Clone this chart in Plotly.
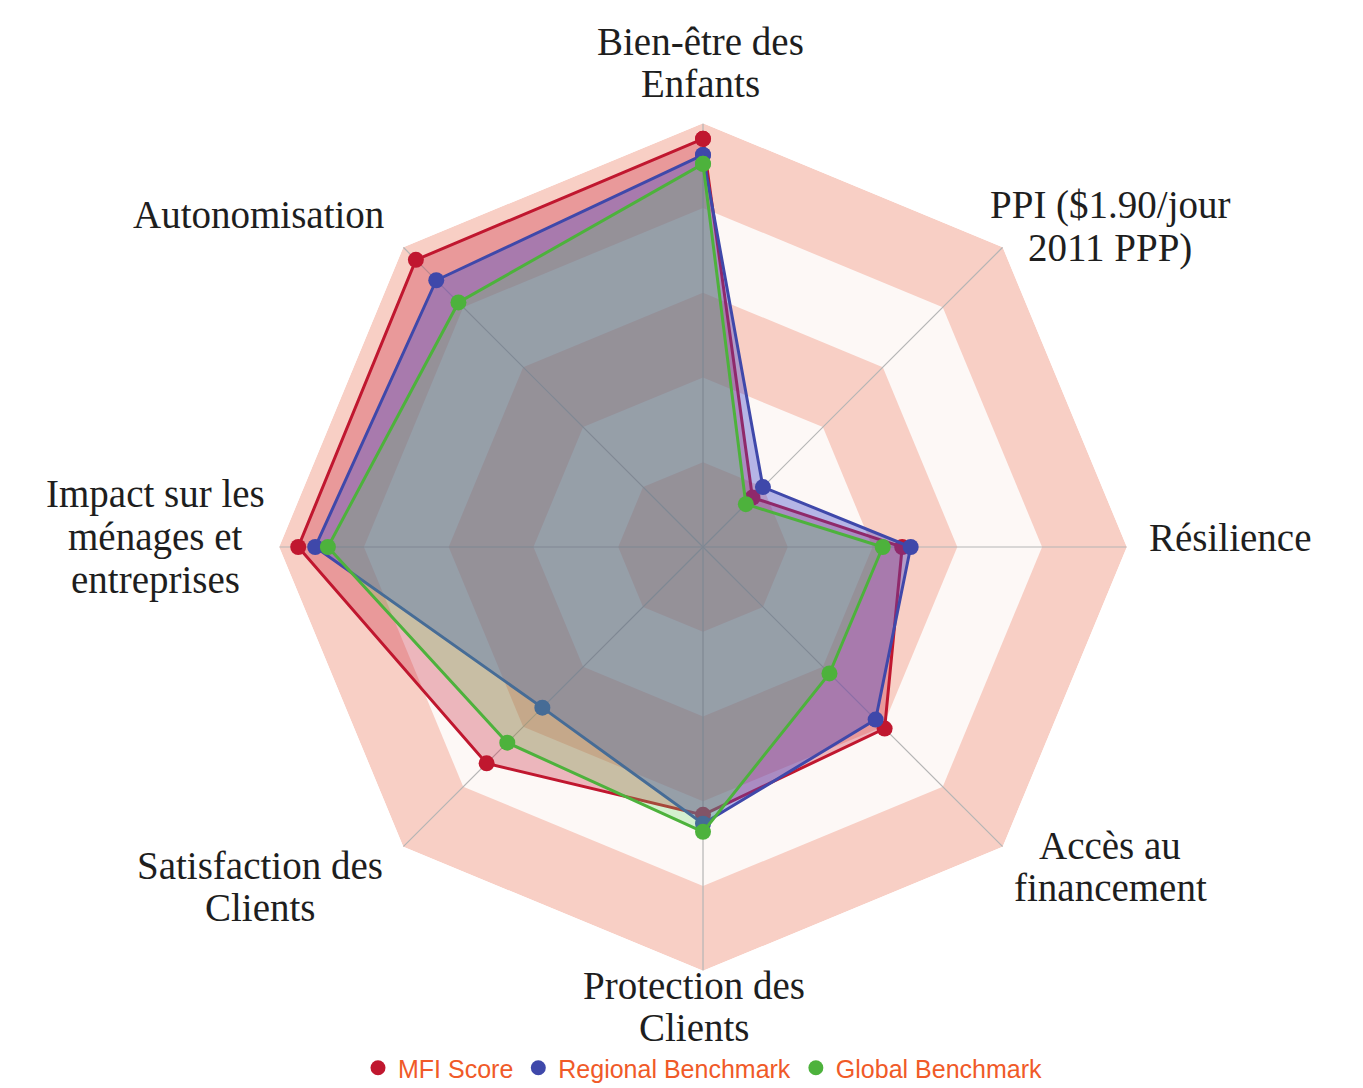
import plotly.graph_objects as go

categories = [
    "Bien-être des Enfants",
    "PPI ($1.90/jour 2011 PPP)",
    "Résilience",
    "Accès au financement",
    "Protection des Clients",
    "Satisfaction des Clients",
    "Impact sur les ménages et entreprises",
    "Autonomisation",
]
# label lines as displayed around the chart
label_lines = [
    ["Bien-être des", "Enfants"],
    ["PPI ($1.90/jour", "2011 PPP)"],
    ["Résilience"],
    ["Accès au", "financement"],
    ["Protection des", "Clients"],
    ["Satisfaction des", "Clients"],
    ["Impact sur les", "ménages et", "entreprises"],
    ["Autonomisation"],
]
mfi_score = [96.3, 16.5, 47.0, 60.6, 63.2, 72.2, 95.5, 95.8]
regional_benchmark = [92.5, 20.0, 49.0, 57.6, 65.3, 53.6, 91.5, 89.0]
global_benchmark = [90.4, 14.3, 42.4, 42.2, 67.2, 65.3, 88.5, 81.6]
series_names = ["MFI Score", "Regional Benchmark", "Global Benchmark"]
band_levels = [100, 80, 60, 40, 20]

line_colors = ["#c0172f", "#3f48aa", "#4db23c"]
fill_colors = ["rgba(195,20,48,0.29)", "rgba(63,72,204,0.38)", "rgba(90,215,90,0.25)"]
band_colors = ["#f8cfc5", "#fdf8f6"]

# the page body offsets the figure slightly inside the window
OFFX, OFFY = 8, 5
W, H = 1363 - OFFX, 1088 - OFFY

fig = go.Figure()

closed_theta = categories + [categories[0]]

# background bands
for i, lvl in enumerate(band_levels):
    fig.add_trace(go.Scatterpolar(
        r=[lvl] * len(closed_theta), theta=closed_theta, mode="lines",
        fill="toself", fillcolor=band_colors[i % 2],
        line=dict(width=0, color=band_colors[i % 2]),
        showlegend=False, hoverinfo="skip"))

# spokes
for c in categories:
    fig.add_trace(go.Scatterpolar(
        r=[0, band_levels[0]], theta=[c, c], mode="lines",
        line=dict(color="#b5b5b5", width=1.2),
        showlegend=False, hoverinfo="skip"))

series = [mfi_score, regional_benchmark, global_benchmark]
for vals, name, lc, fc in zip(series, series_names, line_colors, fill_colors):
    fig.add_trace(go.Scatterpolar(
        r=vals + [vals[0]], theta=closed_theta, mode="lines+markers",
        fill="toself", fillcolor=fc,
        line=dict(color=lc, width=3),
        marker=dict(color=lc, size=16),
        name=name, showlegend=False))

# legend entries (markers only)
for name, lc in zip(series_names, line_colors):
    fig.add_trace(go.Scatterpolar(
        r=[None], theta=[categories[0]], mode="markers",
        marker=dict(color=lc, size=15), name=name, showlegend=True))

# axis labels: centre positions (window px) of each label block
label_centers = [
    (701, 60), (1110, 225), (1230, 538), (1110, 870),
    (694, 1011), (260, 890), (155, 538), (259, 213),
]
line_step = 43
annotations = []
for lines, (cx, cy) in zip(label_lines, label_centers):
    n = len(lines)
    for k, txt in enumerate(lines):
        yy = cy + (k - (n - 1) / 2) * line_step
        annotations.append(dict(
            text=txt, x=(cx - OFFX) / W, y=1 - (yy - OFFY) / H,
            xref="paper", yref="paper", xanchor="center", yanchor="middle",
            showarrow=False,
            font=dict(family="Liberation Serif", size=39, color="#1e1e1e")))

cx0, cy0, R = 703 - OFFX, 548 - OFFY, 427
fig.update_layout(
    width=W, height=H,
    margin=dict(l=0, r=0, t=0, b=0),
    paper_bgcolor="white",
    annotations=annotations,
    polar=dict(
        domain=dict(x=[(cx0 - R) / W, (cx0 + R) / W],
                    y=[1 - (cy0 + R) / H, 1 - (cy0 - R) / H]),
        gridshape="linear",
        bgcolor="rgba(0,0,0,0)",
        radialaxis=dict(range=[0, 100], visible=False),
        angularaxis=dict(
            direction="clockwise", rotation=90,
            showgrid=False, showline=False, ticks="", showticklabels=False,
        ),
    ),
    showlegend=True,
    legend=dict(
        orientation="h", x=(703 - OFFX) / W, xanchor="center",
        y=1 - (1073 - OFFY) / H, yanchor="middle",
        font=dict(family="Liberation Sans", size=25, color="#f05a28"),
        itemsizing="trace", bgcolor="rgba(0,0,0,0)",
    ),
)

fig.write_html("out.html")
